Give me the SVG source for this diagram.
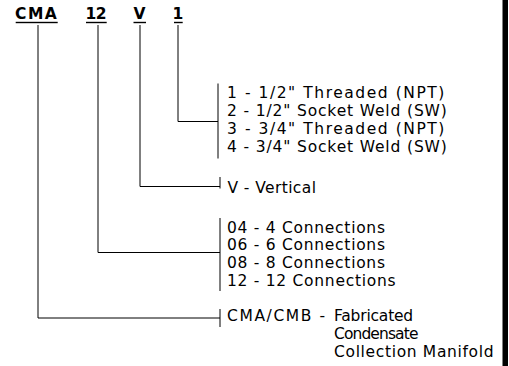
<svg xmlns="http://www.w3.org/2000/svg" width="509" height="366" viewBox="0 0 509 366">
<style>
.h{font-family:"DejaVu Sans",sans-serif;font-weight:bold;font-size:15.5px;fill:#000}
.t{font-family:"DejaVu Sans",sans-serif;font-size:15.5px;fill:#000}
.c{stroke:#000;stroke-width:1;fill:none}
</style>
<rect width="509" height="366" fill="#fff"/>
<rect x="502.5" y="0" width="5.5" height="366" fill="#000"/>
<g id="header">
<text class="h" x="15" y="19" letter-spacing="1.5">CMA</text>
<text class="h" x="85.5" y="19" letter-spacing="-0.6">12</text>
<text class="h" x="133.5" y="19">V</text>
<text class="h" x="172.5" y="19">1</text>
<rect x="15.7" y="21.8" width="42" height="1.4"/>
<rect x="86" y="21.8" width="20.7" height="1.4"/>
<rect x="133.5" y="21.8" width="12.5" height="1.4"/>
<rect x="174" y="21.8" width="8.7" height="1.4"/>
</g>
<g id="connectors" class="c">
<polyline points="38,25 38,318 220,318"/>
<polyline points="98,25 98,252.5 220,252.5"/>
<polyline points="140,25 140,186.5 220,186.5"/>
<polyline points="178,25 178,121.5 218,121.5"/>
<line x1="218" y1="83.5" x2="218" y2="158.5"/>
<line x1="220" y1="177" x2="220" y2="188.5"/>
<line x1="220" y1="218" x2="220" y2="291"/>
<line x1="220" y1="309" x2="220" y2="327"/>
</g>
<g id="opt-connection">
<text class="t" x="227" y="98" letter-spacing="1.55">1 - 1/2" Threaded (NPT)</text>
<text class="t" x="227" y="116" letter-spacing="0.85">2 - 1/2" Socket Weld (SW)</text>
<text class="t" x="227" y="134" letter-spacing="1.55">3 - 3/4" Threaded (NPT)</text>
<text class="t" x="227" y="152" letter-spacing="0.85">4 - 3/4" Socket Weld (SW)</text>
</g>
<g id="opt-orientation">
<text class="t" x="227.5" y="192.5" letter-spacing="0.4">V - Vertical</text>
</g>
<g id="opt-count">
<text class="t" x="227" y="232.5" letter-spacing="0.72">04 - 4 Connections</text>
<text class="t" x="227" y="250.3" letter-spacing="0.72">06 - 6 Connections</text>
<text class="t" x="227" y="268.1" letter-spacing="0.72">08 - 8 Connections</text>
<text class="t" x="227" y="285.9" letter-spacing="0.72">12 - 12 Connections</text>
</g>
<g id="opt-model">
<text class="t" x="227" y="321" letter-spacing="1.6">CMA/CMB -</text>
<text class="t" x="334" y="321" letter-spacing="-0.2">Fabricated</text>
<text class="t" x="334" y="339.2" letter-spacing="-0.9">Condensate</text>
<text class="t" x="334" y="357.4" letter-spacing="0.66">Collection Manifold</text>
</g>
</svg>
